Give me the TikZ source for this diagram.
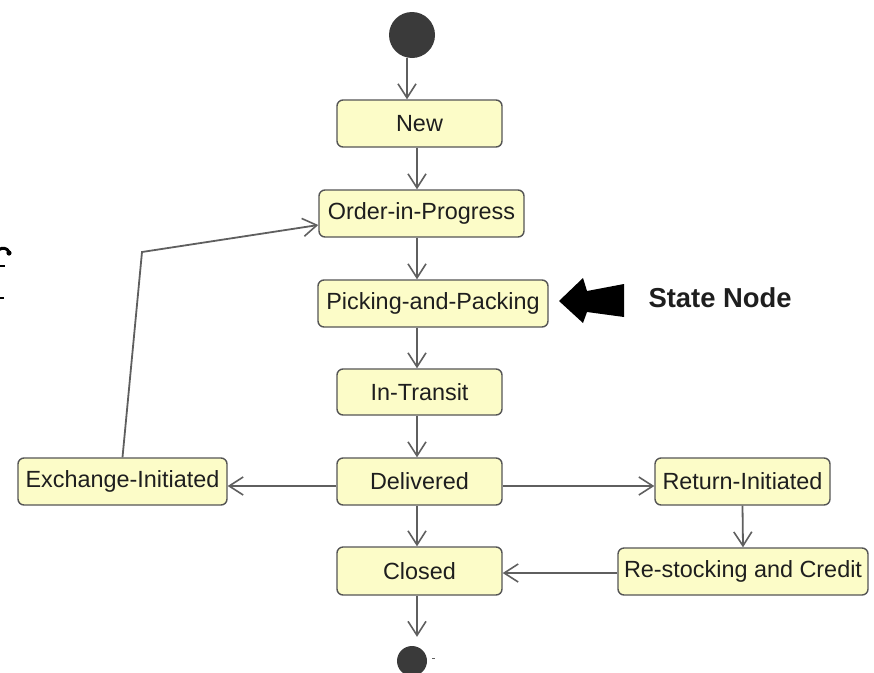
\documentclass[tikz,border=0pt]{standalone}
\usepackage{fontspec}
\setmainfont{Liberation Sans}
\usetikzlibrary{arrows.meta}

\definecolor{boxfill}{RGB}{252,252,200}
\definecolor{boxline}{RGB}{85,85,85}
\definecolor{wire}{RGB}{95,95,95}
\definecolor{ink}{RGB}{30,30,30}
\definecolor{dot}{RGB}{58,58,58}

\tikzset{
  state/.style={draw=boxline, line width=1.4pt, fill=boxfill, rounded corners=6pt,
    inner sep=0pt, minimum height=47pt, text=ink,
    font=\fontsize{23.4}{28}\selectfont},
  wirearrow/.style={draw=wire, line width=1.8pt,
    -{Straight Barb[length=14pt,width=18pt,line width=1.6pt]}},
  blob/.style={circle, fill=dot, inner sep=0pt},
}

\begin{document}
\begin{tikzpicture}[x=1pt,y=-1pt]
\useasboundingbox (0,0) rectangle (874,672);

% guide lines for the main column and the side rows
\coordinate (cx) at (417,0);
\coordinate (sx) at (407,0);
\coordinate (row) at (0,486);
\coordinate (low) at (0,573);
\coordinate (bend) at (142,252);

% start and end points
\node[blob, minimum size=46pt] (start) at (412,35) {};
\node[blob, minimum size=30pt] (stop) at (412,661) {};

% states
\node[state, minimum width=165pt] (new) at (419.5,123.5) {New};
\node[state, minimum width=205pt] (oip) at (421.5,213.5) {Order-in-Progress};
\node[state, minimum width=230pt] (pap) at (433,303.5) {Picking-and-Packing};
\node[state, minimum width=165pt, minimum height=46pt] (transit) at (419.5,392) {In-Transit};
\node[state, minimum width=165pt] (delivered) at (419.5,481.5) {Delivered};
\node[state, minimum width=165pt, minimum height=48pt] (closed) at (419.5,571) {Closed};
\node[state, minimum width=209pt] (exchange) at (122.5,481.5) {Exchange-Initiated};
\node[state, minimum width=175pt] (return) at (742.5,481.5) {Return-Initiated};
\node[state, minimum width=250pt] (restock) at (743,571.5) {Re-stocking and Credit};

% transitions
\draw[wirearrow] (start.south -| sx) -- (new.north -| sx);
\draw[wirearrow] (new.south -| cx) -- (oip.north -| cx);
\draw[wirearrow] (oip.south -| cx) -- (pap.north -| cx);
\draw[wirearrow] (pap.south -| cx) -- (transit.north -| cx);
\draw[wirearrow] (transit.south -| cx) -- (delivered.north -| cx);
\draw[wirearrow] (delivered.south -| cx) -- (closed.north -| cx);
\draw[wirearrow, shorten >=9pt] (closed.south -| cx) -- (stop.north -| cx);
\draw[wirearrow] (delivered.west |- row) -- (exchange.east |- row);
\draw[wirearrow] (delivered.east |- row) -- (return.west |- row);
\draw[wirearrow] (return.south) -- (restock.north);
\draw[wirearrow] (restock.west |- low) -- (closed.east |- low);
\draw[wirearrow] (exchange.north) -- (bend) -- ([yshift=-11.5pt]oip.west);

% pointer to a state node
\fill[black] (559,301) -- (583,278) -- (587,291) -- (624,284) -- (624,317)
  -- (587,312) -- (583,323) -- cycle;
\node[anchor=base west, font=\bfseries\fontsize{27.4}{32}\selectfont, text=ink]
  (label) at (645,307) {State Node};

% stray marks at the left edge
\draw[line width=3pt, line cap=round] (-2,250) .. controls (3,247) and (7,248) .. (9,252);
\fill (9,253) circle (2.6pt);
\draw[line width=2pt] (0,266) -- (5,266);
\draw[line width=1.5pt] (0,298) -- (4,298);
\draw[wire, line width=1pt] (432,658) -- (435,658);
\end{tikzpicture}
\end{document}
